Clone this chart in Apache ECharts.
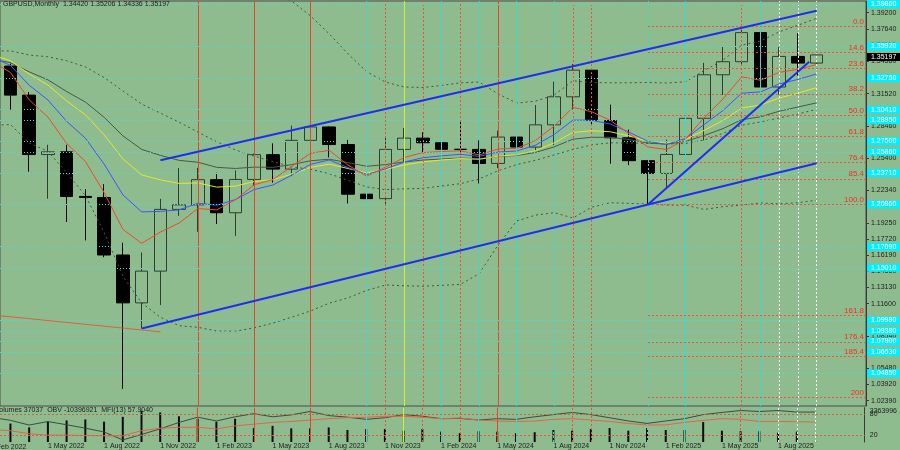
<!DOCTYPE html>
<html><head><meta charset="utf-8">
<script src="https://cdn.jsdelivr.net/npm/echarts@6/dist/echarts.min.js"></script>
<style>html,body{margin:0;padding:0;background:#8fbc8f}#c{width:900px;height:450px}</style>
</head><body><div id="c"></div>
<script>
// ---------------- data ----------------
const months = ['Feb 2022','Mar 2022','Apr 2022','May 2022','Jun 2022','Jul 2022','Aug 2022','Sep 2022','Oct 2022','Nov 2022','Dec 2022',
 'Jan 2023','Feb 2023','Mar 2023','Apr 2023','May 2023','Jun 2023','Jul 2023','Aug 2023','Sep 2023','Oct 2023','Nov 2023','Dec 2023',
 'Jan 2024','Feb 2024','Mar 2024','Apr 2024','May 2024','Jun 2024','Jul 2024','Aug 2024','Sep 2024','Oct 2024','Nov 2024','Dec 2024',
 'Jan 2025','Feb 2025','Mar 2025','Apr 2025','May 2025','Jun 2025','Jul 2025','Aug 2025','Sep 2025','Oct 2025'];
const open  = [1.3446,1.3414,1.3138,1.2574,1.2600,1.2177,1.2167,1.1621,1.1167,1.1468,1.2054,1.2097,1.2336,1.2022,1.2338,1.2573,1.2436,1.2709,1.2836,1.2669,1.2198,1.2156,1.2623,1.2730,1.2686,1.2624,1.2623,1.2490,1.2740,1.2645,1.2856,1.3122,1.3375,1.2897,1.2733,1.2516,1.2395,1.2575,1.2918,1.3331,1.3455,1.3731,1.3215,1.3505,1.34420];
const high  = [1.3644,1.3438,1.3167,1.2667,1.2666,1.2246,1.2293,1.1738,1.1645,1.2154,1.2446,1.2448,1.2402,1.2424,1.2584,1.2680,1.2849,1.3142,1.2841,1.2713,1.2337,1.2733,1.2827,1.2786,1.2773,1.2894,1.2709,1.2801,1.2860,1.3044,1.3266,1.3434,1.3391,1.3048,1.2811,1.2523,1.2715,1.3014,1.3444,1.3594,1.3789,1.3789,1.3595,1.3726,1.35206];
const low   = [1.3272,1.3000,1.2411,1.2155,1.1934,1.1760,1.1600,1.0350,1.0924,1.1146,1.1992,1.1841,1.1915,1.1802,1.2275,1.2308,1.2369,1.2590,1.2548,1.2110,1.2037,1.2096,1.2500,1.2597,1.2518,1.2575,1.2300,1.2446,1.2612,1.2615,1.2665,1.3001,1.2845,1.2487,1.2474,1.2100,1.2249,1.2561,1.2709,1.3140,1.3416,1.3140,1.3142,1.3324,1.34336];
const close = [1.3414,1.3138,1.2574,1.2600,1.2177,1.2167,1.1621,1.1167,1.1468,1.2054,1.2097,1.2336,1.2022,1.2338,1.2573,1.2436,1.2709,1.2836,1.2669,1.2198,1.2156,1.2623,1.2730,1.2686,1.2624,1.2623,1.2490,1.2740,1.2645,1.2856,1.3122,1.3375,1.2897,1.2733,1.2516,1.2395,1.2575,1.2918,1.3331,1.3455,1.3731,1.3215,1.3505,1.3442,1.35197];

const maRed    = [1.3460,1.3353,1.3093,1.2929,1.2678,1.2508,1.2212,1.1864,1.1732,1.1839,1.1925,1.2062,1.2049,1.2145,1.2288,1.2337,1.2461,1.2586,1.2614,1.2475,1.2369,1.2454,1.2546,1.2593,1.2603,1.2610,1.2570,1.2627,1.2633,1.2707,1.2845,1.3022,1.2980,1.2898,1.2771,1.2646,1.2622,1.2721,1.2924,1.3101,1.3311,1.3279,1.3354,1.3382,1.3428];
const maBlue   = [1.3500,1.3420,1.3232,1.3092,1.2889,1.2729,1.2483,1.2191,1.2030,1.2035,1.2049,1.2113,1.2093,1.2147,1.2242,1.2285,1.2379,1.2481,1.2523,1.2451,1.2385,1.2438,1.2503,1.2544,1.2562,1.2576,1.2557,1.2598,1.2608,1.2663,1.2765,1.2901,1.2900,1.2863,1.2786,1.2699,1.2671,1.2726,1.2860,1.2992,1.3156,1.3169,1.3244,1.3287,1.3339];
const maYellow = [1.3520,1.3465,1.3338,1.3233,1.3082,1.2951,1.2761,1.2533,1.2381,1.2334,1.2300,1.2305,1.2265,1.2275,1.2318,1.2335,1.2388,1.2452,1.2483,1.2442,1.2401,1.2433,1.2475,1.2505,1.2522,1.2536,1.2529,1.2559,1.2571,1.2612,1.2685,1.2784,1.2800,1.2790,1.2751,1.2700,1.2682,1.2716,1.2804,1.2897,1.3016,1.3044,1.3110,1.3157,1.3209];
const maGray   = [1.3480,1.3446,1.3359,1.3283,1.3172,1.3072,1.2927,1.2751,1.2623,1.2566,1.2519,1.2501,1.2453,1.2442,1.2455,1.2453,1.2479,1.2515,1.2530,1.2497,1.2463,1.2479,1.2504,1.2522,1.2532,1.2541,1.2536,1.2556,1.2565,1.2594,1.2647,1.2720,1.2738,1.2738,1.2716,1.2684,1.2673,1.2698,1.2755,1.2820,1.2905,1.2932,1.2985,1.3025,1.3065];
const bbMid    = [1.3556,1.3558,1.3518,1.3502,1.3464,1.3406,1.3304,1.3177,1.3054,1.2967,1.2881,1.2787,1.2696,1.2618,1.2559,1.2507,1.2458,1.2435,1.2392,1.2330,1.2267,1.2241,1.2249,1.2253,1.2276,1.2298,1.2342,1.2420,1.2479,1.2519,1.2571,1.2623,1.2666,1.2686,1.2683,1.2681,1.2674,1.2679,1.2712,1.2775,1.2853,1.2883,1.2922,1.2959,1.3004];
const bbUpper  = [1.4262,1.4257,1.4352,1.4399,1.4526,1.4628,1.4774,1.4936,1.4942,1.4874,1.4780,1.4583,1.4449,1.4274,1.4160,1.4090,1.4031,1.3890,1.3720,1.3530,1.3360,1.3262,1.3215,1.3210,1.3230,1.3255,1.3262,1.3150,1.3063,1.3080,1.3139,1.3274,1.3257,1.3255,1.3255,1.3258,1.3253,1.3264,1.3371,1.3469,1.3612,1.3651,1.3738,1.3801,1.3867];
const bbLower  = [1.2850,1.2859,1.2684,1.2605,1.2402,1.2184,1.1834,1.1418,1.1166,1.1030,1.0950,1.0935,1.0900,1.0898,1.0930,1.0975,1.1031,1.1090,1.1164,1.1214,1.1285,1.1337,1.1329,1.1325,1.1333,1.1343,1.1444,1.1714,1.1944,1.1999,1.2023,1.1972,1.2075,1.2117,1.2111,1.2104,1.2095,1.2094,1.2053,1.2080,1.2094,1.2115,1.2106,1.2117,1.2141];

const volumes = [1500000,1987000,1573000,2194000,2329000,2432000,2194000,2712000,3364000,3188000,2774000,2505000,2194000,2505000,1501000,1739000,1470000,1470000,1573000,1294000,1397000,1397000,1221000,1397000,1118000,952000,1159000,1118000,952000,1056000,1294000,1221000,1397000,1501000,1221000,1501000,1294000,1294000,2153000,1221000,1159000,1159000,1014000,1118000,37037];
const obv = [-12.68,-13.88,-15.88,-14.40,-15.76,-17.20,-18.80,-22.16,-19.88,-17.48,-14.80,-12.56,-14.16,-12.40,-11.08,-12.40,-11.60,-10.16,-11.88,-12.56,-13.48,-12.80,-11.48,-12.16,-13.20,-13.08,-13.76,-13.20,-13.48,-12.40,-11.48,-10.56,-11.48,-12.80,-14.16,-15.20,-14.16,-13.20,-11.48,-10.56,-9.76,-10.16,-9.76,-10.40,-10.397];
const mfi = [36,33,24,20,20,19,18,18,33,40,43,43,38,47,52,57,60,64,68,71,72,75,75,72,68,70,64,61,60,61,66,68,64,60,54,49.5,50,57,63,68,66,60,60,59,57.9];

const priceTicks = [1.39200,1.37640,1.36110,1.34580,1.33050,1.31520,1.29990,1.28460,1.26930,1.25400,1.23870,1.22340,1.20810,1.19250,1.17720,1.16190,1.14660,1.13130,1.11600,1.10070,1.08540,1.07010,1.05480,1.03920,1.02390];
const dateTickIdx = [3,6,9,12,15,18,21,24,27,30,33,36,39,42];
const firstDateLabel = '1 Feb 2022';
const hLevels = [1.3986,1.3592,1.3275,1.3041,1.2895,1.2750,1.2586,1.2371,1.2086,1.1709,1.1501,1.0998,1.0938,1.0780,1.0653,1.0485];
const fibLabels = ['0.0','14.6','23.6','38.2','50.0','61.8','76.4','85.4','100.0','161.8','176.4','185.4','200'];
const fibPrices = [1.3788,1.3542,1.3392,1.3146,1.2944,1.2744,1.2500,1.2344,1.2100,1.1045,1.0795,1.0657,1.0271];
const fibStartIdx = 35;
const vLineIdx  = [11,14,17,20,21,22,23,24,25,26,27,28,30,31,32,35,37,40,41,42,43,44];
const vLineKind = ['red','red','red','cyan','redDot','yellow','redDot','cyan','redDot','cyan','red','cyan','cyanDot','redDot','redDot','cyanDot','cyan','redDot','cyan','whiteDot','whiteDot','whiteDot'];
const channelUpper = [[9,1.2521],[44,1.3939]];
const channelLower = [[8,1.0924],[44,1.2492]];
const trendUp      = [[35,1.2100],[43.6,1.3455]];
const redTrend     = [[0,1.1053],[9,1.0892]];
const title = 'GBPUSD,Monthly  1.34420 1.35206 1.34336 1.35197';
const subTitle = 'Volumes 37037  OBV -10396921  MFI(13) 57.9040';
const lastPrice = 1.35197;
const volScaleLabel = 3363996;

// ---------------- styles ----------------
const BG = '#8fbc8f';
const FONT = 'Liberation Sans';
const TXT = '#1c1c1c';
const X_MIN = 0.4427, X_MAX = 46.6293;
const P_MIN = 1.01885, P_MAX = 1.4031;
const vStyles = {
  red:      {color:'#eb412d', type:'solid', width:1},
  redDot:   {color:'#e2553c', type:[2,2], width:1},
  cyan:     {color:'#43d6c6', type:'solid', width:1},
  cyanDot:  {color:'#43d6c6', type:[2,2], width:1},
  yellow:   {color:'#cdf235', type:'solid', width:1},
  whiteDot: {color:'#f2f2f2', type:[2,2], width:1}
};
const pts = a => a.map((v,i)=>[i,v]);
const vLines = vLineIdx.map((x,k)=>({xAxis:x, lineStyle:vStyles[vLineKind[k]]}));

const hLines = hLevels.map(p=>({yAxis:p,
  lineStyle:{color:'#48e0d2', type:[1,2], width:1},
  label:{show:true, position:'end', distance:1, formatter:p.toFixed(5), color:'#ffffff',
    backgroundColor:'#00f0ff', padding:[0,4,0,4], lineHeight:8, fontSize:7, fontFamily:FONT}}));
const fibLines = fibPrices.map((p,k)=>[
  {coord:[fibStartIdx,p], lineStyle:{color:'#e05a40', type:[2,2], width:1},
   label:{show:true, position:'insideEndTop', distance:[2,1], formatter:fibLabels[k], color:'#ff2b1a', fontSize:8, fontFamily:FONT}},
  {coord:[X_MAX,p]}]);
const lastLine = {yAxis:lastPrice, lineStyle:{color:'rgba(0,0,0,0)', width:1},
  label:{show:true, position:'end', distance:1, formatter:lastPrice.toFixed(5), color:'#ffffff', backgroundColor:'#000000',
    opacity:1, padding:[0,4,0,4], lineHeight:8, fontSize:7, fontFamily:FONT}};

function lineSeries(data, color, extra){
  return Object.assign({type:'line', xAxisIndex:0, yAxisIndex:0, data:pts(data), showSymbol:false, silent:true,
    animation:false, clip:true, z:4, lineStyle:{color:color, width:1}}, extra||{});
}
function segSeries(seg, color, width, z){
  return {type:'line', xAxisIndex:0, yAxisIndex:0, data:seg, showSymbol:false, silent:true, animation:false,
    clip:true, z:z, lineStyle:{color:color, width:width}};
}
const tStyle = {fontSize:7, fontWeight:'normal', color:TXT, fontFamily:FONT};

const chart = echarts.init(document.getElementById('c'), null, {renderer:'canvas', width:900, height:450});
chart.setOption({
  animation:false,
  backgroundColor:BG,
  textStyle:{fontFamily:FONT},
  title:[
    {text:title, left:3, top:1, padding:0, textStyle:tStyle},
    {text:subTitle, left:-5, top:407, padding:0, textStyle:tStyle},
    {text:firstDateLabel, left:-9, top:444, padding:0, textStyle:tStyle}
  ],
  grid:[
    {left:0, right:34, top:1, height:405, show:true, borderColor:'#4a4a4a', borderWidth:1, backgroundColor:'transparent'},
    {left:0, right:34, top:407.7, height:36.2, show:false}
  ],
  xAxis:[
    {type:'value', gridIndex:0, min:X_MIN, max:X_MAX, show:false},
    {type:'value', gridIndex:1, min:X_MIN, max:X_MAX,
      axisLine:{show:false}, axisTick:{show:false}, splitLine:{show:false},
      axisLabel:{customValues:dateTickIdx, formatter:v=>'1 '+months[Math.round(v)], align:'left',
        fontSize:7, color:TXT, margin:1, fontFamily:FONT}}
  ],
  yAxis:[
    {type:'value', gridIndex:0, min:P_MIN, max:P_MAX, position:'right', splitLine:{show:false},
      axisLine:{show:true, lineStyle:{color:'#3a3a3a'}},
      axisTick:{show:true, customValues:priceTicks, length:3, lineStyle:{color:'#3a3a3a'}},
      axisLabel:{customValues:priceTicks, formatter:v=>v.toFixed(5), fontSize:7, color:TXT, margin:5, fontFamily:FONT}},
    {type:'value', gridIndex:1, min:0, max:100, position:'right', splitLine:{show:false},
      axisLine:{show:true, lineStyle:{color:'#3a3a3a'}}, axisTick:{show:false},
      axisLabel:{customValues:[9,20,80], formatter:v=>v<10?'0':String(v), fontSize:7, color:TXT, margin:5, fontFamily:FONT}},
    {type:'value', gridIndex:1, min:0, max:3700000, position:'right', splitLine:{show:false},
      axisLine:{show:false}, axisTick:{show:false},
      axisLabel:{customValues:[volScaleLabel], formatter:v=>String(v), fontSize:7, color:TXT, margin:5, fontFamily:FONT}},
    {type:'value', gridIndex:1, min:-23.04, max:-8.56, show:false}
  ],
  series:[
    {type:'line', xAxisIndex:0, yAxisIndex:0, data:pts(close), showSymbol:false, silent:true, z:1,
      lineStyle:{opacity:0},
      markLine:{symbol:['none','none'], silent:true, animation:false, label:{show:false},
        data:[...vLines, ...hLines, ...fibLines]}},
    {type:'line', xAxisIndex:0, yAxisIndex:0, data:pts(close), showSymbol:false, silent:true, z:6,
      lineStyle:{color:'rgba(0,0,0,0)'},
      markLine:{symbol:['none','none'], silent:true, animation:false, data:[lastLine]}},
    {type:'candlestick', xAxisIndex:0, yAxisIndex:0, z:3, barWidth:13, silent:true,
      data:months.map((m,i)=>[i, open[i], close[i], low[i], high[i]]),
      encode:{x:0, y:[1,2,3,4]},
      itemStyle:{color:BG, color0:'#000000', borderColor:'#2f3f2f', borderColor0:'#000000', borderWidth:1}},
    lineSeries(bbUpper, '#3e5a3e', {lineStyle:{color:'#3e5a3e', width:1, type:[2,3]}}),
    lineSeries(bbMid,   '#3e5a3e', {lineStyle:{color:'#3e5a3e', width:1, type:[2,3]}}),
    lineSeries(bbLower, '#3e5a3e', {lineStyle:{color:'#3e5a3e', width:1, type:[2,3]}}),
    lineSeries(maGray, '#465a46'),
    lineSeries(maYellow, '#e6e62e'),
    lineSeries(maBlue, '#3a56ff'),
    lineSeries(maRed, '#ec4a2a'),
    segSeries(channelUpper, '#1f2ff0', 2, 5),
    segSeries(channelLower, '#1f2ff0', 2, 5),
    segSeries(trendUp, '#1f2ff0', 2, 5),
    segSeries(redTrend, '#e0603e', 1, 5),
    {type:'bar', xAxisIndex:1, yAxisIndex:2, barWidth:2, silent:true, z:3,
      data:pts(volumes), itemStyle:{color:'#0a0a0a'},
      markLine:{symbol:['none','none'], silent:true, animation:false, label:{show:false}, data:vLines}},
    {type:'line', xAxisIndex:1, yAxisIndex:3, data:pts(obv), showSymbol:false, silent:true, z:4,
      lineStyle:{color:'#3c4c3c', width:1}},
    {type:'line', xAxisIndex:1, yAxisIndex:1, data:pts(mfi), showSymbol:false, silent:true, z:4,
      lineStyle:{color:'#e2644c', width:1},
      markLine:{symbol:['none','none'], silent:true, animation:false, label:{show:false},
        lineStyle:{color:'#e05a40', type:[2,2], width:1}, data:[{yAxis:80},{yAxis:20}]}}
  ]
});
</script></body></html>
